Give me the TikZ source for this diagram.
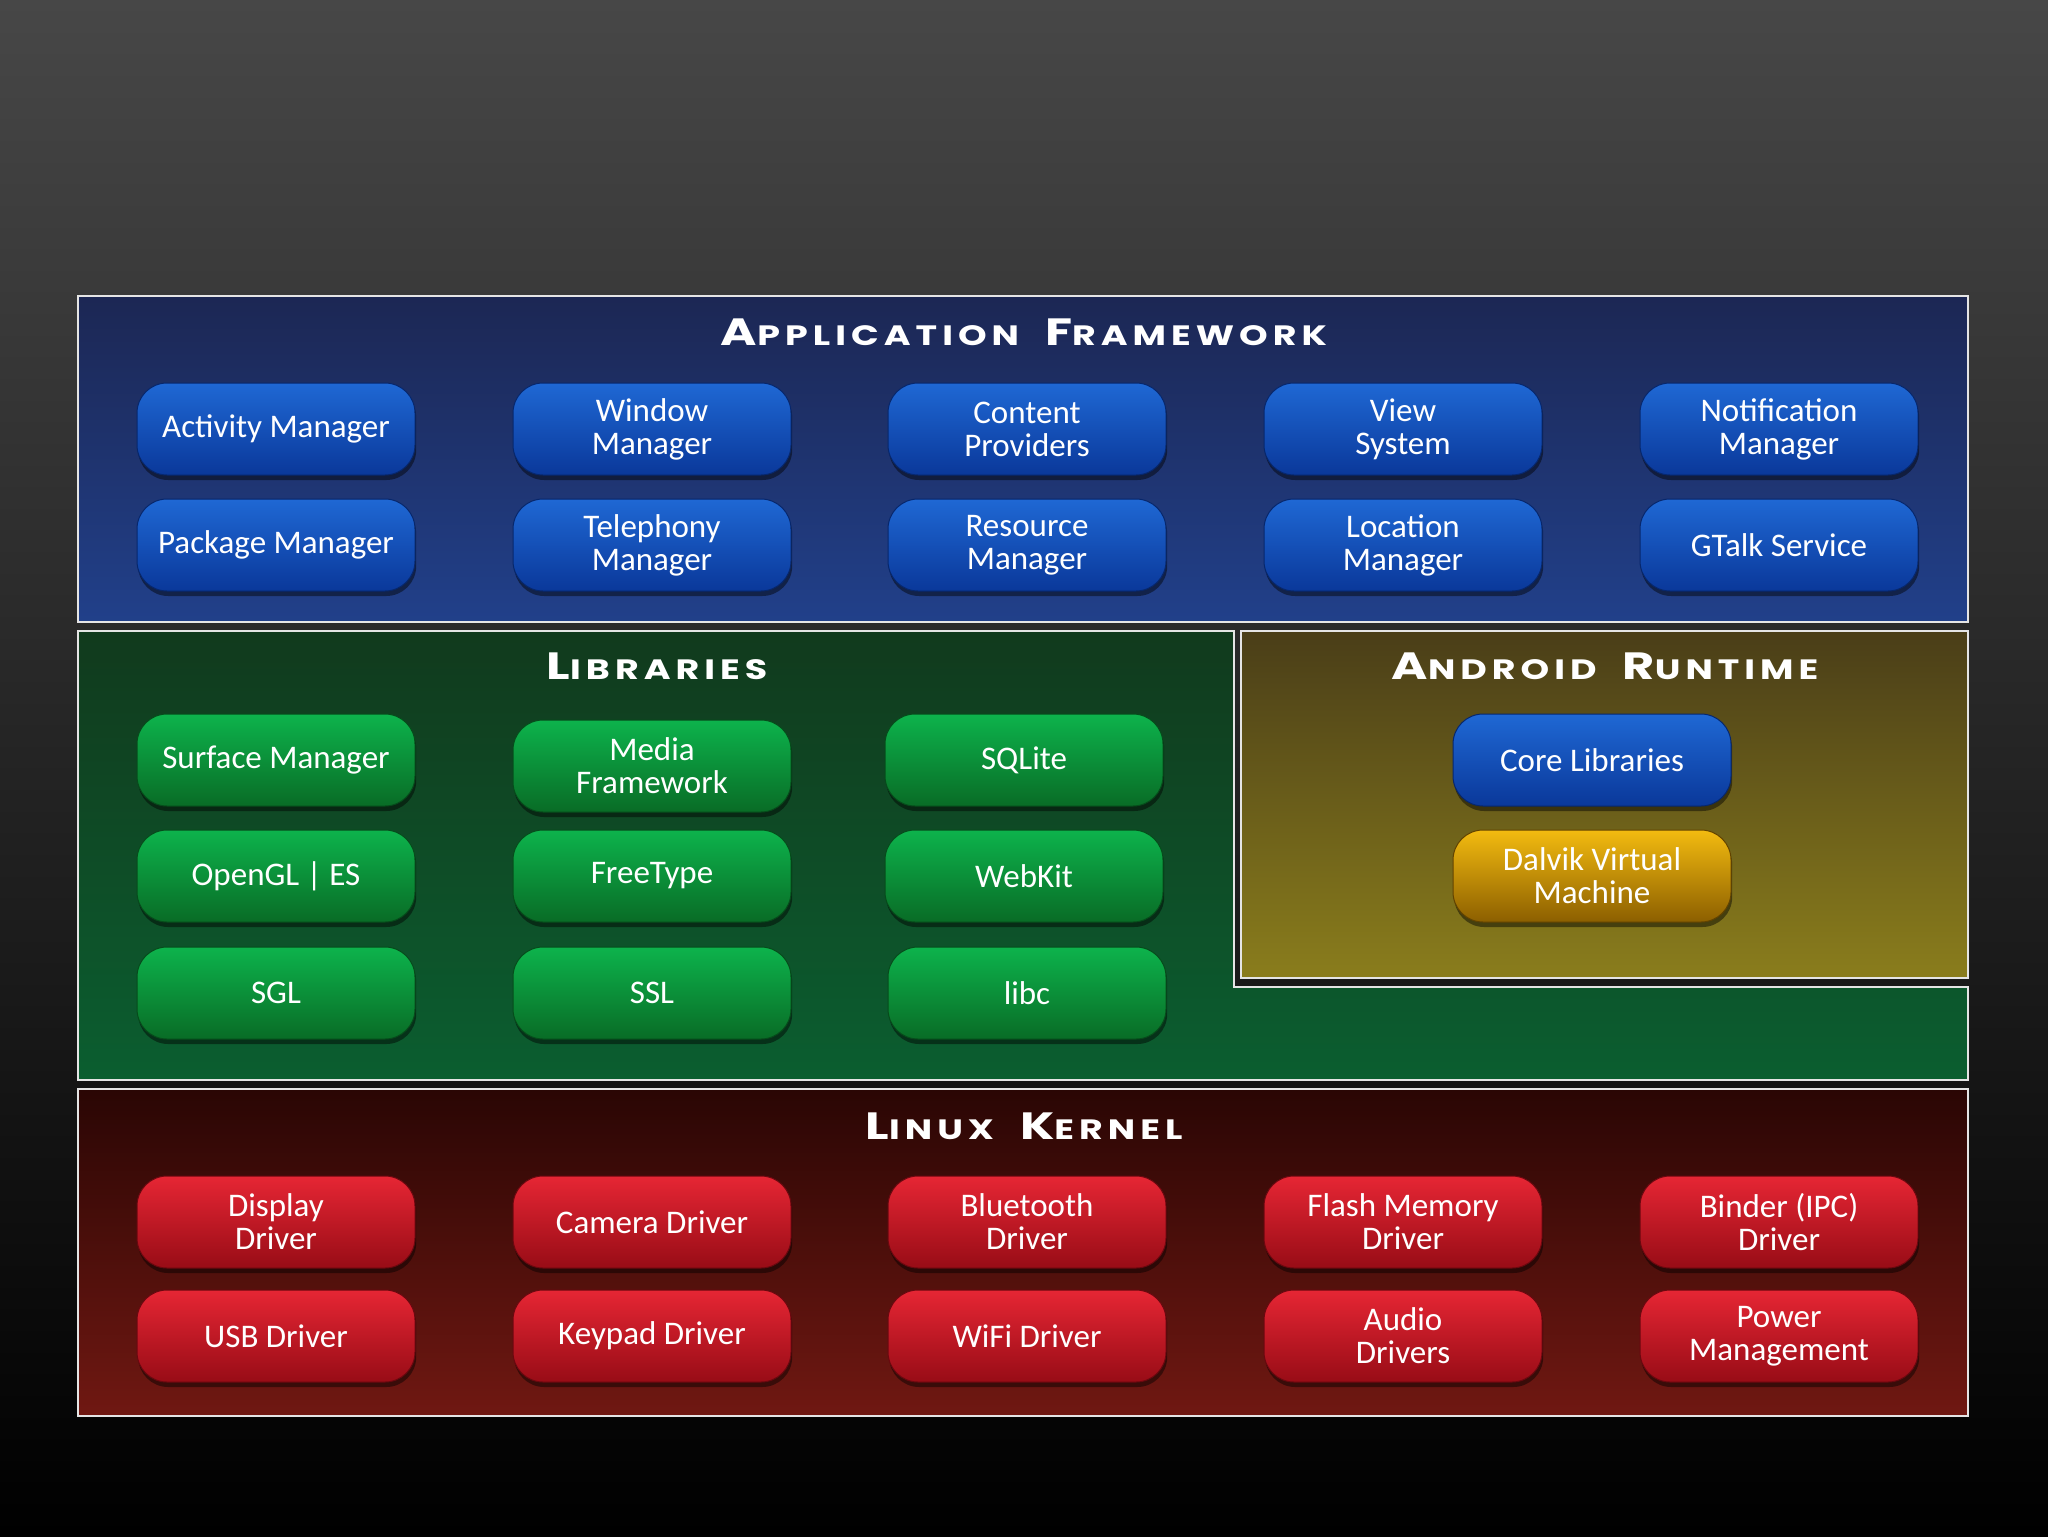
\documentclass[tikz,border=0pt]{standalone}
\usepackage{fontspec}
\setmainfont{Carlito}
\newfontfamily\titlefont{Poppins}[FakeStretch=1.3,LetterSpace=18]
\usetikzlibrary{shadows}
\definecolor{bgtop}{HTML}{474747}
\definecolor{bgbot}{HTML}{000000}
\definecolor{apptop}{HTML}{1C2754}
\definecolor{appbot}{HTML}{21408A}
\definecolor{libtop}{HTML}{113A1D}
\definecolor{libbot}{HTML}{0B5E30}
\definecolor{rttop}{HTML}{4A3E18}
\definecolor{rtbot}{HTML}{8A7D1C}
\definecolor{krtop}{HTML}{2A0604}
\definecolor{krbot}{HTML}{701812}
\definecolor{bluetop}{HTML}{1F68D4}
\definecolor{bluebot}{HTML}{0A389A}
\definecolor{greentop}{HTML}{0DB34C}
\definecolor{greenbot}{HTML}{096C26}
\definecolor{redtop}{HTML}{E62634}
\definecolor{redbot}{HTML}{980C16}
\definecolor{yeltop}{HTML}{F3BB10}
\definecolor{yelbot}{HTML}{8C5F00}
\newcommand{\bigsc}[2]{{\fontsize{19}{19}\selectfont #1}{\fontsize{14}{14}\selectfont #2}}
\newcommand{\wgap}{\hspace{13pt}}
\tikzset{
  frame/.style={draw=white!90!black, line width=1.1pt},
  btn/.style={rectangle, rounded corners=15pt, minimum width=139pt, minimum height=46pt,
    inner sep=0pt, align=center, text=white, line width=0.5pt,
    font=\fontsize{16.5}{16.5}\selectfont,
    drop shadow={shadow xshift=0.6pt, shadow yshift=-2.5pt, opacity=0.45, fill=black}},
  bluebtn/.style={btn, draw=bluebot!70!black, top color=bluetop, bottom color=bluebot},
  greenbtn/.style={btn, draw=greenbot!70!black, top color=greentop, bottom color=greenbot},
  redbtn/.style={btn, draw=redbot!70!black, top color=redtop, bottom color=redbot},
  yelbtn/.style={btn, draw=yelbot!70!black, top color=yeltop, bottom color=yelbot},
  ttl/.style={text=white, font=\titlefont\bfseries, inner sep=0pt}
}
\begin{document}
\begin{tikzpicture}[x=0.5pt, y=-0.5pt]
\useasboundingbox (0,0) rectangle (2048,1536);
\shade[top color=bgtop, bottom color=bgbot] (0,0) rectangle (2048,1536);

% frames
\path[frame, top color=apptop, bottom color=appbot] (78,296) rectangle (1968,622);
\path[frame, top color=libtop, bottom color=libbot]
  (78,631) -- (1234,631) -- (1234,987) -- (1968,987) -- (1968,1080) -- (78,1080) -- cycle;
\path[frame, top color=rttop, bottom color=rtbot] (1241,631) rectangle (1968,978);
\path[frame, top color=krtop, bottom color=krbot] (78,1089) rectangle (1968,1416);

% titles
\node[ttl] (tapp) at (1024,332) {\bigsc{A}{PPLICATION}\wgap\bigsc{F}{RAMEWORK}};
\node[ttl] (tlib) at (657,666) {\bigsc{L}{IBRARIES}};
\node[ttl] (trt) at (1605,666) {\bigsc{A}{NDROID}\wgap\bigsc{R}{UNTIME}};
\node[ttl] (tkr) at (1024,1126) {\bigsc{L}{INUX}\wgap\bigsc{K}{ERNEL}};

% application framework
\node[bluebtn] (am) at (276,429) {Activity Manager};
\node[bluebtn] (wm) at (652,429) {Window\\Manager};
\node[bluebtn] (cp) at (1027,429) {Content\\Providers};
\node[bluebtn] (vs) at (1403,429) {View\\System};
\node[bluebtn] (nm) at (1779,429) {Notification\\Manager};
\node[bluebtn] (pm) at (276,545) {Package Manager};
\node[bluebtn] (tm) at (652,545) {Telephony\\Manager};
\node[bluebtn] (rm) at (1027,545) {Resource\\Manager};
\node[bluebtn] (lm) at (1403,545) {Location\\Manager};
\node[bluebtn] (gt) at (1779,545) {GTalk Service};

% libraries
\node[greenbtn] (sm) at (276,760) {Surface Manager};
\node[greenbtn] (mf) at (652,766) {Media\\Framework};
\node[greenbtn] (sq) at (1024,760) {SQLite};
\node[greenbtn] (gl) at (276,876) {OpenGL | ES};
\node[greenbtn] (ft) at (652,876) {FreeType};
\node[greenbtn] (wk) at (1024,876) {WebKit};
\node[greenbtn] (sgl) at (276,993) {SGL};
\node[greenbtn] (ssl) at (652,993) {SSL};
\node[greenbtn] (lc) at (1027,993) {libc};

% android runtime
\node[bluebtn] (cl) at (1592,760) {Core Libraries};
\node[yelbtn] (dv) at (1592,876) {Dalvik Virtual\\Machine};

% linux kernel
\node[redbtn] (dd) at (276,1222) {Display\\Driver};
\node[redbtn] (cd) at (652,1222) {Camera Driver};
\node[redbtn] (bd) at (1027,1222) {Bluetooth\\Driver};
\node[redbtn] (fd) at (1403,1222) {Flash Memory\\Driver};
\node[redbtn] (bi) at (1779,1222) {Binder (IPC)\\Driver};
\node[redbtn] (ud) at (276,1336) {USB Driver};
\node[redbtn] (kd) at (652,1336) {Keypad Driver};
\node[redbtn] (wd) at (1027,1336) {WiFi Driver};
\node[redbtn] (ad) at (1403,1336) {Audio\\Drivers};
\node[redbtn] (pw) at (1779,1336) {Power\\Management};
\end{tikzpicture}
\end{document}
